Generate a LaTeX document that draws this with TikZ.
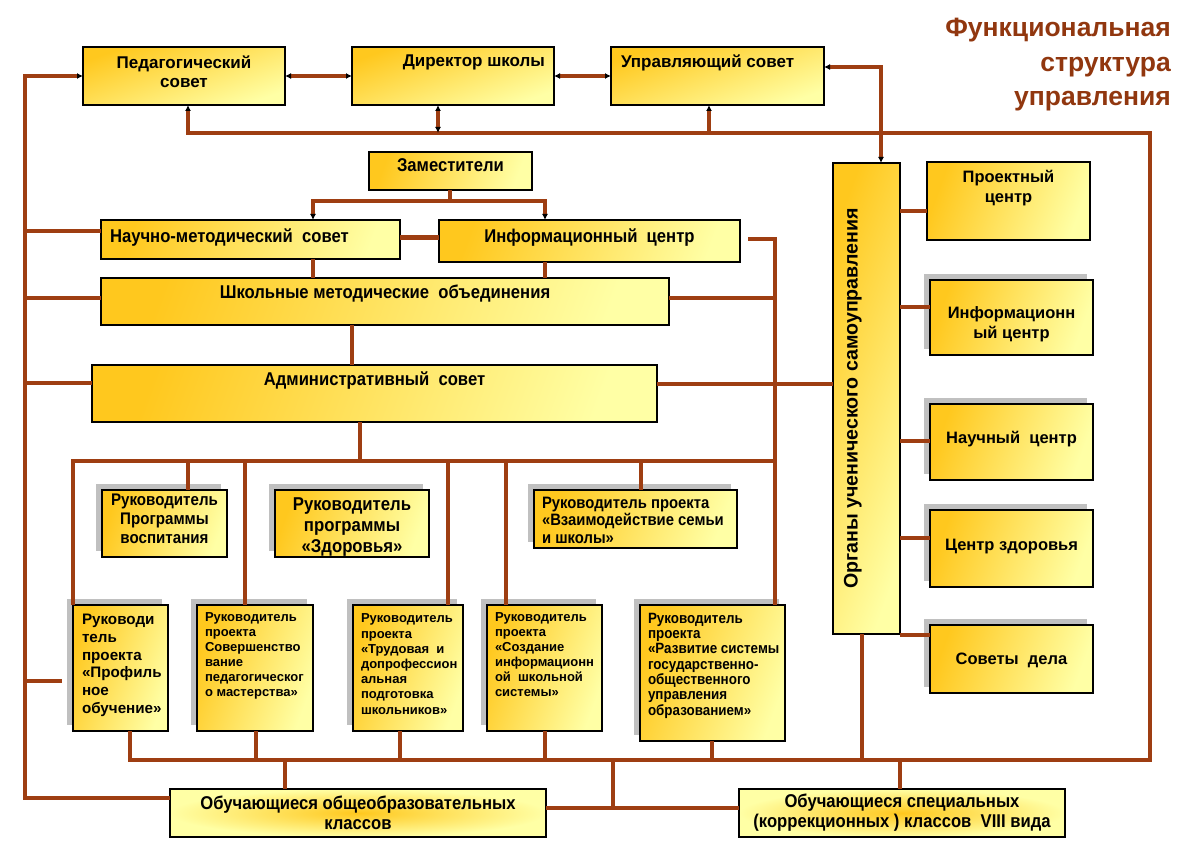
\documentclass[tikz,border=0pt]{standalone}
\usepackage{fontspec}
\setmainfont{Liberation Sans}
\newfontfamily\nar[FakeStretch=0.9]{Liberation Sans}
\usetikzlibrary{arrows.meta,shadows}
\definecolor{brn}{RGB}{158,62,18}
\definecolor{ydk}{RGB}{255,200,30}
\definecolor{ylt}{RGB}{255,255,165}
\definecolor{ttl}{RGB}{145,55,15}
\definecolor{shd}{RGB}{192,192,192}
\newcommand{\bt}[4]{\parbox[c][#2][t]{#1}{\vspace*{#3}#4}}
\newcommand{\bc}[3]{\parbox[c][#2][c]{#1}{#3}}
\tikzset{
  box/.style={draw=black, line width=1.3pt, inner sep=0pt, outer sep=0pt, anchor=north west,
    left color=ydk, right color=ylt, shading angle=70},
  topbox/.style={box, shading angle=20},
  rbox/.style={draw=black, line width=1.3pt, inner sep=0pt, outer sep=0pt, anchor=north west,
    inner color=ydk, outer color=ylt},
  sh/.style={general shadow={fill=shd, shadow xshift=-6pt, shadow yshift=6pt}},
  ln/.style={draw=brn, line width=3.7pt},
  ar/.style={-{Latex[length=6pt,width=6pt,color=black]}},
  ra/.style={{Latex[length=6pt,width=6pt,color=black]}-},
  lr/.style={{Latex[length=6pt,width=6pt,color=black]}-{Latex[length=6pt,width=6pt,color=black]}},
}
\begin{document}
\begin{tikzpicture}[x=1pt,y=-1pt]
\fill[white] (0,0) rectangle (1202,850);
\useasboundingbox (0,0) rectangle (1202,850);

% title
\node[anchor=north east, align=right, text=ttl, inner sep=0pt,
  font=\fontsize{26.5}{34.5}\selectfont\bfseries] (title) at (1171,18)
  {Функциональная\\структура\\управления};

% top row
\node[topbox] (ped) at (83,47) {\bt{202pt}{58pt}{8.5pt}{\centering\fontsize{17}{19}\selectfont\bfseries Педагогический\\совет}};
\node[topbox] (dir) at (352,47) {\bt{202pt}{58pt}{7.5pt}{\fontsize{17}{19}\selectfont\bfseries\hfill Директор школы\hspace*{9pt}}};
\node[topbox] (upr) at (611,47) {\bt{213pt}{58pt}{7.5pt}{\fontsize{17}{19}\selectfont\bfseries\hspace*{10pt}Управляющий совет}};

% middle
\node[box] (zam) at (369,152) {\bt{163pt}{38pt}{7pt}{\centering\nar\fontsize{18.5}{20}\selectfont\bfseries Заместители}};
\node[box] (nms) at (101,220) {\bt{299pt}{39pt}{9pt}{\nar\fontsize{18.5}{20}\selectfont\bfseries\hspace*{9pt}Научно-методический\ \ совет}};
\node[box] (inf) at (439,220) {\bt{301pt}{42pt}{9pt}{\centering\nar\fontsize{18.5}{20}\selectfont\bfseries Информационный\ \ центр}};
\node[box] (shmo) at (101,278) {\bt{568pt}{47pt}{7pt}{\centering\nar\fontsize{18.5}{20}\selectfont\bfseries Школьные методические\ \ объединения}};
\node[box] (adm) at (92,365) {\bt{565pt}{57pt}{7pt}{\centering\nar\fontsize{18.5}{20}\selectfont\bfseries Административный\ \ совет}};

% managers upper
\node[box, sh] (vosp) at (102,490) {\bt{125pt}{67pt}{4pt}{\centering\nar\fontsize{16.8}{19}\selectfont\bfseries Руководитель\\Программы\\воспитания}};
\node[box, sh] (zdor) at (275,490) {\bt{154pt}{67pt}{8pt}{\centering\nar\fontsize{18.6}{21}\selectfont\bfseries Руководитель\\программы\\«Здоровья»}};
\node[box, sh] (vzaim) at (534,490) {\bt{203pt}{58pt}{7pt}{\raggedright\nar\fontsize{16.5}{17.5}\selectfont\bfseries\leftskip=8pt Руководитель проекта\\«Взаимодействие\ семьи\\и школы»}};

% managers lower
\node[box, sh] (prof) at (73,605) {\bt{95pt}{126pt}{9pt}{\raggedright\fontsize{15.2}{17.8}\selectfont\bfseries\leftskip=9pt Руководи\\тель\\проекта\\«Профиль\\ное\\обучение»}};
\node[box, sh] (sov) at (197,605) {\bt{116pt}{126pt}{8pt}{\raggedright\fontsize{13}{15}\selectfont\bfseries\leftskip=8pt Руководитель\\проекта\\Совершенство\\вание\\педагогическог\\о мастерства»}};
\node[box, sh] (trud) at (353,605) {\bt{110pt}{126pt}{9pt}{\raggedright\fontsize{13}{15.2}\selectfont\bfseries\leftskip=8pt Руководитель\\проекта\\«Трудовая\ \ и\\допрофессион\\альная\\подготовка\\школьников»}};
\node[box, sh] (sozd) at (487,605) {\bt{115pt}{126pt}{8pt}{\raggedright\fontsize{13}{15}\selectfont\bfseries\leftskip=8pt Руководитель\\проекта\\«Создание\\информационн\\ой\ \ школьной\\системы»}};
\node[box, sh] (razv) at (640,605) {\bt{145pt}{136pt}{8pt}{\raggedright\nar\fontsize{14.9}{15.3}\selectfont\bfseries\leftskip=8pt Руководитель\\проекта\\«Развитие системы\\государственно-\\общественного\\управления\\образованием»}};

% students' self-government
\node[box] (org) at (833,163) {\bc{67pt}{471pt}{\hspace*{11pt}\rotatebox{90}{\fontsize{19.6}{22}\selectfont\bfseries Органы ученического самоуправления}}};
\node[box] (proj) at (927,162) {\bt{163pt}{78pt}{8pt}{\centering\fontsize{16.5}{20}\selectfont\bfseries Проектный\\центр}};
\node[box, sh] (rinf) at (930,280) {\bt{163pt}{75pt}{27pt}{\centering\fontsize{16.5}{20}\selectfont\bfseries Информационн\\ый центр}};
\node[box, sh] (nauch) at (930,404) {\bt{163pt}{76pt}{27pt}{\centering\fontsize{16.5}{20}\selectfont\bfseries Научный\ \ центр}};
\node[box, sh] (zdr) at (930,510) {\bt{163pt}{77pt}{29pt}{\centering\fontsize{16.5}{20}\selectfont\bfseries Центр здоровья}};
\node[box, sh] (sovd) at (930,625) {\bt{163pt}{68pt}{28pt}{\centering\fontsize{16.5}{20}\selectfont\bfseries Советы\ \ дела}};

% students
\node[rbox] (ob1) at (170,789) {\bc{376pt}{48pt}{\centering\nar\fontsize{18.5}{20}\selectfont\bfseries Обучающиеся общеобразовательных\\классов}};
\node[rbox] (ob2) at (739,789) {\bc{326pt}{48pt}{\centering\nar\fontsize{18.5}{20}\selectfont\bfseries Обучающиеся специальных\\(коррекционных )\ классов\ \ VIII вида}};

% junctions
\coordinate (jL) at (25,76);
\coordinate (jLB) at (25,798);
\coordinate (jT) at (188,133);
\coordinate (jTR) at (1150,133);
\coordinate (jBR) at (1150,760);
\coordinate (jBL) at (130,760);
\coordinate (jU) at (881,67);
\coordinate (jZ) at (450,201);
\coordinate (jM) at (775,239);
\coordinate (jMB) at (775,461);
\coordinate (jML) at (73,461);
\coordinate (stub) at (62,681);

% top connectors
\draw[ln, ra] (ped.west) -- (jL) -- (jLB) -- (ob1.west |- jLB);
\draw[ln, lr] (ped.east) -- (dir.west);
\draw[ln, lr] (dir.east) -- (upr.west);
\draw[ln, lr] (upr.east |- jU) -- (jU) -- (org.north -| jU);
\draw[ln, ra] (ped.south -| jT) -- (jT) -- (jTR) -- (jBR) -- (jBL) -- (prof.south -| jBL);
\draw[ln, lr] (dir.south -| 438,0) -- (438,133);
\draw[ln, ar] (709,133) -- (upr.south -| 709,0);

% middle connectors
\draw[ln] (zam.south -| jZ) -- (jZ);
\draw[ln, lr] (nms.north -| 313,0) -- (313,201) -- (545,201) -- (inf.north -| 545,0);
\draw[ln] (25,231) -- (nms.west |- 0,231);
\draw[ln, line width=5pt] (nms.east |- 0,238) -- (inf.west |- 0,238);
\draw[ln] (nms.south -| 313,0) -- (shmo.north -| 313,0);
\draw[ln] (inf.south -| 545,0) -- (shmo.north -| 545,0);
\draw[ln] ([xshift=8pt]inf.east |- jM) -- (jM) -- (razv.north -| jM);
\draw[ln] (shmo.east |- 0,298) -- (775,298);
\draw[ln] (25,298) -- (shmo.west |- 0,298);
\draw[ln] (25,383) -- (adm.west |- 0,383);
\draw[ln] (adm.east |- 0,384) -- (org.west |- 0,384);
\draw[ln] (shmo.south -| 352,0) -- (adm.north -| 352,0);
\draw[ln] (adm.south -| 360,0) -- (360,461);
\draw[ln] (prof.north -| jML) -- (jML) -- (jMB);
\draw[ln] (188,461) -- (vosp.north -| 188,0);
\draw[ln] (245,461) -- (sov.north -| 245,0);
\draw[ln] (448,461) -- (trud.north -| 448,0);
\draw[ln] (506,461) -- (sozd.north -| 506,0);
\draw[ln] (641,461) -- (vzaim.north -| 641,0);
\draw[ln] (25,681) -- (stub);

% bottom connectors
\draw[ln] (sov.south -| 256,0) -- (256,760);
\draw[ln] (trud.south -| 400,0) -- (400,760);
\draw[ln] (sozd.south -| 545,0) -- (545,760);
\draw[ln] (razv.south -| 712,0) -- (712,760);
\draw[ln] (org.south -| 862,0) -- (862,760);
\draw[ln] (285,760) -- (ob1.north -| 285,0);
\draw[ln] (900,760) -- (ob2.north -| 900,0);
\draw[ln] (613,760) -- (613,808);
\draw[ln] (ob1.east |- 0,808) -- (ob2.west |- 0,808);

% right column
\draw[ln] (org.east |- 0,211) -- (proj.west |- 0,211);
\draw[ln] (org.east |- 0,307) -- (rinf.west |- 0,307);
\draw[ln] (org.east |- 0,441) -- (nauch.west |- 0,441);
\draw[ln] (org.east |- 0,538) -- (zdr.west |- 0,538);
\draw[ln] (org.east |- 0,635) -- (sovd.west |- 0,635);
\end{tikzpicture}
\end{document}
